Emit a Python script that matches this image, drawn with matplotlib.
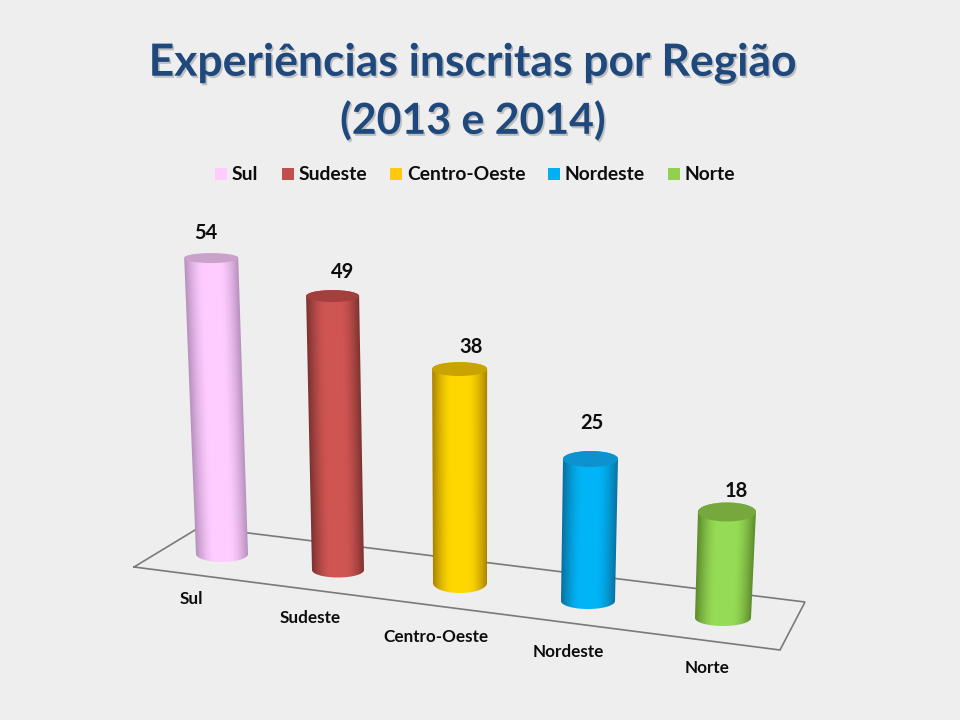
import matplotlib

matplotlib.use("Agg")
import matplotlib.pyplot as plt
import matplotlib.patheffects as pe
import numpy as np
from matplotlib.colors import LinearSegmentedColormap
from matplotlib.patches import Ellipse, PathPatch, Rectangle
from matplotlib.path import Path

categories = ["Sul", "Sudeste", "Centro-Oeste", "Nordeste", "Norte"]
values = [54, 49, 38, 25, 18]

# the chart is a fake 3D one, so every bar gets its own projected placement (pixels)
base_x = [222, 338, 460, 588, 723]
base_y = [554, 570, 583, 601, 618]
px_per_unit = [5.48, 5.59, 5.63, 5.68, 5.89]
lean_per_unit = [-0.20, -0.11, -0.01, 0.10, 0.22]
base_width = [52, 52, 54, 54, 56]
top_width = [54, 53, 55, 55, 58]
top_ry = [5, 6, 7, 8, 9.5]
base_ry = [8, 7.5, 10, 8, 8]

edge_colors = ["#b68fbd", "#7a3230", "#a98200", "#0a6f9f", "#5c8a2c"]
mid_colors = ["#ffccff", "#cf5552", "#ffd800", "#00b4f5", "#97dc55"]
cap_colors = ["#c9a2cc", "#a33f3d", "#c9a400", "#0e92cf", "#76a83e"]
legend_colors = ["#ffccff", "#c0504d", "#ffc90e", "#00b0f0", "#92d050"]

legend_x = [215, 282, 390, 548, 668]
label_xy = [(191, 599), (310, 618), (436, 637), (568, 652), (707, 668)]
value_xy = [(206, 233), (343, 272), (471, 347), (592, 423), (736, 491)]

floor_x = [134, 780, 805, 200, 134]
floor_y = [567, 650, 602, 527, 567]

FONT = "Lato"
TEXT = "#0d0d0d"


def draw_cylinder(ax, i):
    height = values[i] * px_per_unit[i]
    top_y = base_y[i] - height
    top_x = base_x[i] + values[i] * lean_per_unit[i]
    bw = base_width[i] / 2
    tw = top_width[i] / 2

    # outline: bottom curve, then back over the cap
    t = np.linspace(np.pi, 0, 40)
    bottom = np.column_stack([base_x[i] + bw * np.cos(t), base_y[i] + base_ry[i] * np.sin(t)])
    t = np.linspace(0, np.pi, 40)
    top = np.column_stack([top_x + tw * np.cos(t), top_y - top_ry[i] * np.sin(t)])
    verts = np.vstack([bottom, top, bottom[:1]])
    clip = PathPatch(Path(verts), transform=ax.transData, facecolor="none", edgecolor="none")
    ax.add_patch(clip)

    left = min(base_x[i] - bw, top_x - tw) - 1
    right = max(base_x[i] + bw, top_x + tw) + 1
    y0 = top_y - top_ry[i] - 1
    y1 = base_y[i] + base_ry[i] + 1

    # shade follows the leaning tube, so each row has its own centre and half width
    ys = np.arange(y0, y1, 1.0)
    xs = np.arange(left, right, 0.5)
    frac = (ys - top_y) / (base_y[i] - top_y)
    centre = top_x + (base_x[i] - top_x) * frac
    half = tw + (bw - tw) * frac
    u = np.abs(xs[np.newaxis, :] - centre[:, np.newaxis]) / half[:, np.newaxis]
    shade = np.clip((u - 0.3) / 0.7, 0, 1) ** 1.6

    cmap = LinearSegmentedColormap.from_list("cyl", [mid_colors[i], edge_colors[i]])
    im = ax.imshow(
        shade,
        cmap=cmap,
        vmin=0,
        vmax=1,
        extent=(left, right, y1, y0),
        aspect="auto",
        interpolation="bilinear",
        zorder=3,
    )
    im.set_clip_path(clip)

    cap = Ellipse((top_x, top_y), tw * 2, top_ry[i] * 2, facecolor=cap_colors[i], edgecolor="none", zorder=4)
    ax.add_patch(cap)


def main():
    fig = plt.figure(figsize=(9.6, 7.2), dpi=100, facecolor="#eeeeee")
    ax = fig.add_axes([0, 0, 1, 1])
    ax.set_facecolor("#eeeeee")

    ax.plot(floor_x, floor_y, color="#7a7a7a", lw=1.2, zorder=1, solid_joinstyle="miter")

    for i in range(len(values)):
        draw_cylinder(ax, i)
        ax.text(*value_xy[i], str(values[i]), ha="center", va="center",
                fontsize=14.5, fontweight="bold", family=FONT, color=TEXT, zorder=5)
        ax.text(*label_xy[i], categories[i], ha="center", va="center",
                fontsize=12.3, fontweight="bold", family=FONT, color=TEXT, zorder=5)
        ax.add_patch(Rectangle((legend_x[i], 168), 12, 12, facecolor=legend_colors[i], edgecolor="none"))
        ax.text(legend_x[i] + 17, 174, categories[i], ha="left", va="center",
                fontsize=13.9, fontweight="bold", family=FONT, color=TEXT)

    shadow = [pe.withSimplePatchShadow(offset=(1.2, -1.5), shadow_rgbFace="#555555", alpha=0.3)]
    ax.text(473, 63, "Experiências inscritas por Região", ha="center", va="center",
            fontsize=32, fontweight="bold", family=FONT, color="#1f497d", path_effects=shadow)
    ax.text(473, 120, "(2013 e 2014)", ha="center", va="center",
            fontsize=30.8, fontweight="bold", family=FONT, color="#1f497d", path_effects=shadow)

    ax.set_xlim(0, 960)
    ax.set_ylim(720, 0)
    ax.axis("off")
    fig.savefig("out.png", dpi=100, facecolor=fig.get_facecolor())
    plt.close(fig)


if __name__ == "__main__":
    main()
